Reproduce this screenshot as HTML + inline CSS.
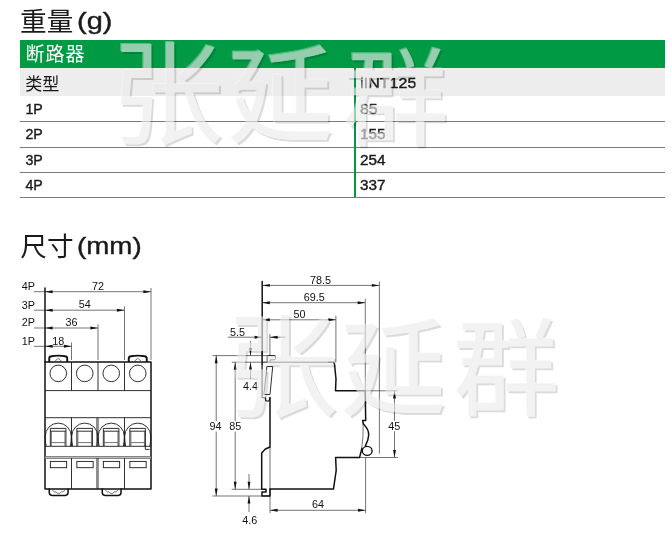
<!DOCTYPE html>
<html><head><meta charset="utf-8"><title>iINT125</title>
<style>
html,body{margin:0;padding:0;background:#fff}
body{width:672px;height:538px;position:relative;overflow:hidden;font-family:"Liberation Sans",sans-serif;color:#1a1a1a}
.abs{position:absolute;white-space:nowrap;will-change:transform}
.hd{font-size:24px;letter-spacing:1.6px;line-height:24px}
.tx{font-size:14px;line-height:14px;letter-spacing:0.3px}
.ln{position:absolute;left:20px;width:645px;height:1.3px;background:#7a7a7a;will-change:transform}
svg text{font-family:"Liberation Sans","Noto Sans CJK SC",sans-serif}
</style></head><body>
<div class="abs" style="left:20px;top:39.6px;width:645px;height:28.8px;background:#009a44"></div>
<div class="abs" style="left:20px;top:68.4px;width:645px;height:28.4px;background:#ededed"></div>
<div class="ln" style="top:121.4px"></div>
<div class="ln" style="top:146.6px"></div>
<div class="ln" style="top:171.8px"></div>
<div class="ln" style="top:197px"></div>
<div class="abs" style="left:354.1px;top:68.4px;width:2.4px;height:129.2px;background:#009a44"></div>
<svg class="abs" style="left:0;top:0" width="672" height="538" viewBox="0 0 672 538">
<defs>
<filter id="emb" x="0" y="0" width="672" height="538" filterUnits="userSpaceOnUse" color-interpolation-filters="sRGB">
<feOffset in="SourceAlpha" dx="1.8" dy="1.8" result="o1"/>
<feComposite in="o1" in2="SourceAlpha" operator="out" result="sh"/>
<feFlood flood-color="#000" flood-opacity="0.14"/><feComposite in2="sh" operator="in" result="shc"/>
<feOffset in="SourceAlpha" dx="-1" dy="-1" result="o2"/>
<feComposite in="o2" in2="SourceAlpha" operator="out" result="hl"/>
<feFlood flood-color="#fff" flood-opacity="0.35"/><feComposite in2="hl" operator="in" result="hlc"/>
<feFlood flood-color="#ebebeb" flood-opacity="0.64"/><feComposite in2="SourceAlpha" operator="in" result="face"/>
<feMerge><feMergeNode in="shc"/><feMergeNode in="hlc"/><feMergeNode in="face"/></feMerge>
</filter>
</defs>
<g id="cjk">
<text x="20.1" y="30.7" font-size="26.6" fill="#1a1a1a">重量</text>
<text x="25.5" y="61.1" font-size="19" textLength="59" lengthAdjust="spacing" fill="#fff">断路器</text>
<text x="25.2" y="89.5" font-size="17.1" fill="#1a1a1a">类型</text>
<text x="20.3" y="255.8" font-size="26.6" fill="#1a1a1a">尺寸</text>
</g>
<g id="latin">
<text x="77.0" y="28.8" font-size="24" textLength="35.4" lengthAdjust="spacingAndGlyphs" fill="#1a1a1a" stroke="#1a1a1a" stroke-width="0.4">(g)</text>
<text x="77.0" y="254.4" font-size="24" textLength="64.6" lengthAdjust="spacingAndGlyphs" fill="#1a1a1a" stroke="#1a1a1a" stroke-width="0.4">(mm)</text>
<text x="25.4" y="114.2" font-size="14.2" fill="#1a1a1a" stroke="#1a1a1a" stroke-width="0.4">1P</text>
<text x="25.4" y="139.4" font-size="14.2" fill="#1a1a1a" stroke="#1a1a1a" stroke-width="0.4">2P</text>
<text x="25.4" y="164.6" font-size="14.2" fill="#1a1a1a" stroke="#1a1a1a" stroke-width="0.4">3P</text>
<text x="25.4" y="189.8" font-size="14.2" fill="#1a1a1a" stroke="#1a1a1a" stroke-width="0.4">4P</text>
<text x="360.3" y="88" font-size="14.2" textLength="56" lengthAdjust="spacingAndGlyphs" fill="#1a1a1a" stroke="#1a1a1a" stroke-width="0.4">iINT125</text>
<text x="360.0" y="114.2" font-size="14.2" textLength="17.6" lengthAdjust="spacingAndGlyphs" fill="#1a1a1a" stroke="#1a1a1a" stroke-width="0.4">85</text>
<text x="360.0" y="139.4" font-size="14.2" textLength="25.5" lengthAdjust="spacingAndGlyphs" fill="#1a1a1a" stroke="#1a1a1a" stroke-width="0.4">155</text>
<text x="360.0" y="164.6" font-size="14.2" textLength="25.5" lengthAdjust="spacingAndGlyphs" fill="#1a1a1a" stroke="#1a1a1a" stroke-width="0.4">254</text>
<text x="360.0" y="189.8" font-size="14.2" textLength="25.5" lengthAdjust="spacingAndGlyphs" fill="#1a1a1a" stroke="#1a1a1a" stroke-width="0.4">337</text>
</g>
<g id="drawing">
<path d="M34,291.7L151.0,291.7" stroke="#3a3a3a" stroke-width="0.7" fill="none"/>
<polygon points="45.0,291.7 52.6,290.25 52.6,293.15" fill="#111"/>
<polygon points="151.0,291.7 143.4,290.25 143.4,293.15" fill="#111"/>
<text x="21.8" y="290.09999999999997" text-anchor="start" font-size="10.8" fill="#111">4P</text>
<text x="98.0" y="289.9" text-anchor="middle" font-size="10.8" fill="#111">72</text>
<path d="M34,310.2L124.5,310.2" stroke="#3a3a3a" stroke-width="0.7" fill="none"/>
<polygon points="45.0,310.2 52.6,308.75 52.6,311.65" fill="#111"/>
<polygon points="124.5,310.2 116.9,308.75 116.9,311.65" fill="#111"/>
<text x="21.8" y="308.59999999999997" text-anchor="start" font-size="10.8" fill="#111">3P</text>
<text x="84.75" y="308.4" text-anchor="middle" font-size="10.8" fill="#111">54</text>
<path d="M124.5,306.4L124.5,360" stroke="#3a3a3a" stroke-width="0.7" fill="none"/>
<path d="M34,328.0L98.0,328.0" stroke="#3a3a3a" stroke-width="0.7" fill="none"/>
<polygon points="45.0,328.0 52.6,326.55 52.6,329.45" fill="#111"/>
<polygon points="98.0,328.0 90.4,326.55 90.4,329.45" fill="#111"/>
<text x="21.8" y="326.4" text-anchor="start" font-size="10.8" fill="#111">2P</text>
<text x="71.5" y="326.2" text-anchor="middle" font-size="10.8" fill="#111">36</text>
<path d="M98.0,324.2L98.0,360" stroke="#3a3a3a" stroke-width="0.7" fill="none"/>
<path d="M34,346.3L71.5,346.3" stroke="#3a3a3a" stroke-width="0.7" fill="none"/>
<polygon points="45.0,346.3 52.6,344.85 52.6,347.75" fill="#111"/>
<polygon points="71.5,346.3 63.9,344.85 63.9,347.75" fill="#111"/>
<text x="21.8" y="344.7" text-anchor="start" font-size="10.8" fill="#111">1P</text>
<text x="58.25" y="344.5" text-anchor="middle" font-size="10.8" fill="#111">18</text>
<path d="M71.5,342.5L71.5,360" stroke="#3a3a3a" stroke-width="0.7" fill="none"/>
<path d="M151.0,288L151.0,360" stroke="#3a3a3a" stroke-width="0.7" fill="none"/>
<path d="M45.0,288L45.0,362" stroke="#111" stroke-width="1.5" fill="none" stroke-linejoin="round" stroke-linecap="round"/>
<rect x="45.0" y="362" width="106.0" height="127" stroke="#111" stroke-width="1.5" fill="none" stroke-linejoin="round" stroke-linecap="round"/>
<path d="M45.0,390.6L151.0,390.6" stroke="#1a1a1a" stroke-width="0.9" fill="none"/>
<path d="M45.0,417.7L151.0,417.7" stroke="#1a1a1a" stroke-width="0.9" fill="none"/>
<path d="M45.0,446.3L151.0,446.3" stroke="#1a1a1a" stroke-width="0.9" fill="none"/>
<rect x="45.0" y="456.3" width="106.0" height="2.3" fill="#bbb" stroke="#555" stroke-width="0.6"/>
<path d="M71.5,362L71.5,390.6" stroke="#1a1a1a" stroke-width="0.9" fill="none"/>
<path d="M71.5,417.7L71.5,446.3" stroke="#1a1a1a" stroke-width="0.9" fill="none"/>
<path d="M71.5,458L71.5,489" stroke="#1a1a1a" stroke-width="0.9" fill="none"/>
<path d="M98.0,362L98.0,390.6" stroke="#1a1a1a" stroke-width="0.9" fill="none"/>
<path d="M98.0,417.7L98.0,446.3" stroke="#1a1a1a" stroke-width="0.9" fill="none"/>
<path d="M98.0,458L98.0,489" stroke="#1a1a1a" stroke-width="0.9" fill="none"/>
<path d="M124.5,362L124.5,390.6" stroke="#1a1a1a" stroke-width="0.9" fill="none"/>
<path d="M124.5,417.7L124.5,446.3" stroke="#1a1a1a" stroke-width="0.9" fill="none"/>
<path d="M124.5,458L124.5,489" stroke="#1a1a1a" stroke-width="0.9" fill="none"/>
<path d="M96.7,458L96.7,489" stroke="#3a3a3a" stroke-width="0.7" fill="none"/>
<path d="M96.7,417.7L96.7,446.3" stroke="#3a3a3a" stroke-width="0.7" fill="none"/>
<circle cx="58.25" cy="373.4" r="8.3" stroke="#1a1a1a" stroke-width="0.9" fill="none"/>
<path d="M46.1,446.2Q45.2,441 45.2,436.4A13.05,13.3 0 0 1 71.3,436.4Q71.3,441 70.4,446.2" stroke="#1a1a1a" stroke-width="0.9" fill="none"/>
<path d="M50.35,446.2V428.4H65.95V446.2M50.35,431.2H65.95" stroke="#1a1a1a" stroke-width="0.9" fill="none"/>
<path d="M51.35,431.2V446.2M64.95,431.2V446.2M51.35,442.6H64.95" stroke="#3a3a3a" stroke-width="0.7" fill="none"/>
<rect x="50.35" y="461.4" width="16.3" height="6.3" stroke="#1a1a1a" stroke-width="0.9" fill="none"/>
<circle cx="84.75" cy="373.4" r="8.3" stroke="#1a1a1a" stroke-width="0.9" fill="none"/>
<path d="M72.6,446.2Q71.7,441 71.7,436.4A13.05,13.3 0 0 1 97.8,436.4Q97.8,441 96.9,446.2" stroke="#1a1a1a" stroke-width="0.9" fill="none"/>
<path d="M76.85,446.2V428.4H92.45V446.2M76.85,431.2H92.45" stroke="#1a1a1a" stroke-width="0.9" fill="none"/>
<path d="M77.85,431.2V446.2M91.45,431.2V446.2M77.85,442.6H91.45" stroke="#3a3a3a" stroke-width="0.7" fill="none"/>
<rect x="76.85" y="461.4" width="16.3" height="6.3" stroke="#1a1a1a" stroke-width="0.9" fill="none"/>
<circle cx="111.25" cy="373.4" r="8.3" stroke="#1a1a1a" stroke-width="0.9" fill="none"/>
<path d="M99.1,446.2Q98.2,441 98.2,436.4A13.05,13.3 0 0 1 124.3,436.4Q124.3,441 123.4,446.2" stroke="#1a1a1a" stroke-width="0.9" fill="none"/>
<path d="M103.35,446.2V428.4H118.95V446.2M103.35,431.2H118.95" stroke="#1a1a1a" stroke-width="0.9" fill="none"/>
<path d="M104.35,431.2V446.2M117.95,431.2V446.2M104.35,442.6H117.95" stroke="#3a3a3a" stroke-width="0.7" fill="none"/>
<rect x="103.35" y="461.4" width="16.3" height="6.3" stroke="#1a1a1a" stroke-width="0.9" fill="none"/>
<circle cx="137.75" cy="373.4" r="8.3" stroke="#1a1a1a" stroke-width="0.9" fill="none"/>
<path d="M125.6,446.2Q124.7,441 124.7,436.4A13.05,13.3 0 0 1 150.8,436.4Q150.8,441 149.9,446.2" stroke="#1a1a1a" stroke-width="0.9" fill="none"/>
<path d="M129.85,446.2V428.4H145.45V446.2M129.85,431.2H145.45" stroke="#1a1a1a" stroke-width="0.9" fill="none"/>
<path d="M130.85,431.2V446.2M144.45,431.2V446.2M130.85,442.6H144.45" stroke="#3a3a3a" stroke-width="0.7" fill="none"/>
<rect x="129.85" y="461.4" width="16.3" height="6.3" stroke="#1a1a1a" stroke-width="0.9" fill="none"/>
<path d="M49.25,362V358.6Q49.25,356.6 51.25,356.3Q58.25,354.9 65.25,356.3Q67.25,356.6 67.25,358.6V362" stroke="#111" stroke-width="1.9" fill="none" stroke-linejoin="round"/>
<path d="M54.65,361.6L57.45,358.9Q58.25,358.3 59.05,358.9L61.85,361.6" stroke="#3a3a3a" stroke-width="0.7" fill="none"/>
<path d="M128.75,362V358.6Q128.75,356.6 130.75,356.3Q137.75,354.9 144.75,356.3Q146.75,356.6 146.75,358.6V362" stroke="#111" stroke-width="1.9" fill="none" stroke-linejoin="round"/>
<path d="M134.15,361.6L136.95,358.9Q137.75,358.3 138.55,358.9L141.35,361.6" stroke="#3a3a3a" stroke-width="0.7" fill="none"/>
<path d="M49.25,489V492.6Q49.25,495.4 52.05,495.4H65.25Q68.05,495.4 68.05,492.6V489" stroke="#111" stroke-width="1.5" fill="none" stroke-linejoin="round" stroke-linecap="round"/>
<path d="M52.35,490.2L54.449999999999996,491.9H56.05L57.449999999999996,493.4H59.85L61.25,491.9H62.85L64.95,490.2" stroke="#3a3a3a" stroke-width="0.7" fill="none"/>
<path d="M102.25,489V492.6Q102.25,495.4 105.05000000000001,495.4H118.25Q121.05000000000001,495.4 121.05000000000001,492.6V489" stroke="#111" stroke-width="1.5" fill="none" stroke-linejoin="round" stroke-linecap="round"/>
<path d="M105.35000000000001,490.2L107.45,491.9H109.05000000000001L110.45,493.4H112.85000000000001L114.25,491.9H115.85000000000001L117.95,490.2" stroke="#3a3a3a" stroke-width="0.7" fill="none"/>
<path d="M145.3,444.5V449.4H149.6" stroke="#1a1a1a" stroke-width="0.9" fill="none"/>
<path d="M262.2,285.4L379.4,285.4" stroke="#3a3a3a" stroke-width="0.7" fill="none"/>
<polygon points="262.2,285.4 269.8,283.95 269.8,286.84999999999997" fill="#111"/>
<polygon points="379.4,285.4 371.79999999999995,283.95 371.79999999999995,286.84999999999997" fill="#111"/>
<path d="M262.2,302.7L365.3,302.7" stroke="#3a3a3a" stroke-width="0.7" fill="none"/>
<polygon points="262.2,302.7 269.8,301.25 269.8,304.15" fill="#111"/>
<polygon points="365.3,302.7 357.7,301.25 357.7,304.15" fill="#111"/>
<path d="M262.2,319.8L335.9,319.8" stroke="#3a3a3a" stroke-width="0.7" fill="none"/>
<polygon points="262.2,319.8 269.8,318.35 269.8,321.25" fill="#111"/>
<polygon points="335.9,319.8 328.29999999999995,318.35 328.29999999999995,321.25" fill="#111"/>
<text x="320.4" y="283.8" text-anchor="middle" font-size="10.8" fill="#111">78.5</text>
<text x="314.2" y="301.4" text-anchor="middle" font-size="10.8" fill="#111">69.5</text>
<text x="299.4" y="318" text-anchor="middle" font-size="10.8" fill="#111">50</text>
<path d="M262.2,281.5L262.2,354" stroke="#111" stroke-width="1.5" fill="none" stroke-linejoin="round" stroke-linecap="round"/>
<path d="M379.4,281.5L379.4,453.6" stroke="#3a3a3a" stroke-width="0.7" fill="none"/>
<path d="M365.3,298.8L365.3,390.8" stroke="#3a3a3a" stroke-width="0.7" fill="none"/>
<path d="M335.9,315.8L335.9,362.3" stroke="#3a3a3a" stroke-width="0.7" fill="none"/>
<path d="M228,337.2L262.2,337.2" stroke="#3a3a3a" stroke-width="0.7" fill="none"/>
<polygon points="262.2,337.2 254.6,335.75 254.6,338.65" fill="#111"/>
<path d="M270,337.2L285.3,337.2" stroke="#3a3a3a" stroke-width="0.7" fill="none"/>
<polygon points="270,337.2 277.6,335.75 277.6,338.65" fill="#111"/>
<path d="M269.9,334.2L269.9,356" stroke="#3a3a3a" stroke-width="0.7" fill="none"/>
<text x="230" y="335.9" text-anchor="start" font-size="10.8" fill="#111">5.5</text>
<path d="M212.5,355.6L275.3,355.6" stroke="#3a3a3a" stroke-width="0.7" fill="none"/>
<path d="M231.8,362.2L262,362.2" stroke="#3a3a3a" stroke-width="0.7" fill="none"/>
<path d="M250.5,341L250.5,355.6" stroke="#3a3a3a" stroke-width="0.7" fill="none"/>
<polygon points="250.5,355.6 249.05,348.0 251.95,348.0" fill="#111"/>
<path d="M250.5,362.2L250.5,378.5" stroke="#3a3a3a" stroke-width="0.7" fill="none"/>
<polygon points="250.5,362.2 249.05,369.8 251.95,369.8" fill="#111"/>
<text x="243.1" y="390.3" text-anchor="start" font-size="10.8" fill="#111">4.4</text>
<path d="M216.2,355.6L216.2,496" stroke="#3a3a3a" stroke-width="0.7" fill="none"/>
<polygon points="216.2,355.6 214.75,363.20000000000005 217.64999999999998,363.20000000000005" fill="#111"/>
<polygon points="216.2,496 214.75,488.4 217.64999999999998,488.4" fill="#111"/>
<path d="M235.2,362.2L235.2,489.3" stroke="#3a3a3a" stroke-width="0.7" fill="none"/>
<polygon points="235.2,362.2 233.75,369.8 236.64999999999998,369.8" fill="#111"/>
<polygon points="235.2,489.3 233.75,481.7 236.64999999999998,481.7" fill="#111"/>
<rect x="208.6" y="421.2" width="14.0" height="10.3" fill="#fff"/>
<text x="215.6" y="429.8" text-anchor="middle" font-size="10.8" fill="#111">94</text>
<rect x="228.3" y="421.2" width="14.0" height="10.3" fill="#fff"/>
<text x="235.3" y="429.8" text-anchor="middle" font-size="10.8" fill="#111">85</text>
<path d="M231.6,489.3L261.7,489.3" stroke="#3a3a3a" stroke-width="0.7" fill="none"/>
<path d="M212.4,496L270,496" stroke="#3a3a3a" stroke-width="0.7" fill="none"/>
<path d="M249,474L249,489.3" stroke="#3a3a3a" stroke-width="0.7" fill="none"/>
<polygon points="249,489.3 247.55,481.7 250.45,481.7" fill="#111"/>
<path d="M249,496L249,512" stroke="#3a3a3a" stroke-width="0.7" fill="none"/>
<polygon points="249,496 247.55,503.6 250.45,503.6" fill="#111"/>
<text x="242.2" y="523.9" text-anchor="start" font-size="10.8" fill="#111">4.6</text>
<path d="M270,510.3L365.6,510.3" stroke="#3a3a3a" stroke-width="0.7" fill="none"/>
<polygon points="270,510.3 277.6,508.85 277.6,511.75" fill="#111"/>
<polygon points="365.6,510.3 358.0,508.85 358.0,511.75" fill="#111"/>
<text x="318" y="508" text-anchor="middle" font-size="10.8" fill="#111">64</text>
<path d="M270,447L270,513" stroke="#3a3a3a" stroke-width="0.7" fill="none"/>
<path d="M365.6,457.6L365.6,513" stroke="#3a3a3a" stroke-width="0.7" fill="none"/>
<path d="M394.5,390.8L394.5,457.5" stroke="#3a3a3a" stroke-width="0.7" fill="none"/>
<polygon points="394.5,390.8 393.05,398.40000000000003 395.95,398.40000000000003" fill="#111"/>
<polygon points="394.5,457.5 393.05,449.9 395.95,449.9" fill="#111"/>
<path d="M365,390.8L397.5,390.8" stroke="#3a3a3a" stroke-width="0.7" fill="none"/>
<path d="M360,457.5L398,457.5" stroke="#3a3a3a" stroke-width="0.7" fill="none"/>
<rect x="387.3" y="420.9" width="14.0" height="10.3" fill="#fff"/>
<text x="394.3" y="429.5" text-anchor="middle" font-size="10.8" fill="#111">45</text>
<path d="M262.1,353.5V364" stroke="#111" stroke-width="1.5" fill="none" stroke-linejoin="round" stroke-linecap="round"/>
<path d="M262.1,362.2H329" stroke="#222" stroke-width="1" fill="none"/>
<path d="M328.5,362.2H333.5L334.6,365L336,379L335.5,390.8H365.2L365.7,420.4H362.6L363.4,424" stroke="#111" stroke-width="1.5" fill="none" stroke-linejoin="round" stroke-linecap="round"/>
<path d="M363.4,424C366.5,427 368.9,431 368.7,435C368.5,440 366.5,443.5 365.3,446" stroke="#111" stroke-width="1.5" fill="none" stroke-linejoin="round" stroke-linecap="round"/>
<path d="M363.2,424.5Q363.4,437 361.6,449" stroke="#3a3a3a" stroke-width="0.7" fill="none"/>
<ellipse cx="367.2" cy="450.9" rx="4.9" ry="4.5" stroke="#111" stroke-width="1.4" fill="none"/>
<path d="M361.8,448.6L359.6,457.4H335.6L336.2,470.3L333.5,488.9H270" stroke="#111" stroke-width="1.5" fill="none" stroke-linejoin="round" stroke-linecap="round"/>
<path d="M267.2,362V356.5Q267.2,355.6 268.2,355.6H274.3Q275.4,355.6 275.4,356.8V358.6Q275.4,359.8 274,359.8H270.2V362" stroke="#1a1a1a" stroke-width="0.9" fill="none"/>
<path d="M266.9,366.5H272.7L270,394.5H263.9Z" stroke="#1a1a1a" stroke-width="0.9" fill="none"/>
<path d="M262.1,364V397.6H265L266,401H269L270,397.6" stroke="#111" stroke-width="1.2" fill="none"/>
<path d="M270,397.6V447L265.4,449L261.7,453V489.3H266V492H262V496H270V489.3" stroke="#111" stroke-width="1.5" fill="none" stroke-linejoin="round" stroke-linecap="round"/>
</g>
<g filter="url(#emb)">
<text x="110.7" y="135" font-size="113" fill="#000">张</text>
<text x="228.1" y="133.4" font-size="105" fill="#000" stroke="#000" stroke-width="0.8">延</text>
<text x="342.6" y="136.7" font-size="106" fill="#000" stroke="#000" stroke-width="0.4">群</text>
<text x="225.6" y="408" font-size="113" fill="#000">张</text>
<text x="340.9" y="405.6" font-size="105" fill="#000" stroke="#000" stroke-width="0.8">延</text>
<text x="453" y="407.3" font-size="106" fill="#000" stroke="#000" stroke-width="0.4">群</text>
</g>
</svg>
</body></html>
